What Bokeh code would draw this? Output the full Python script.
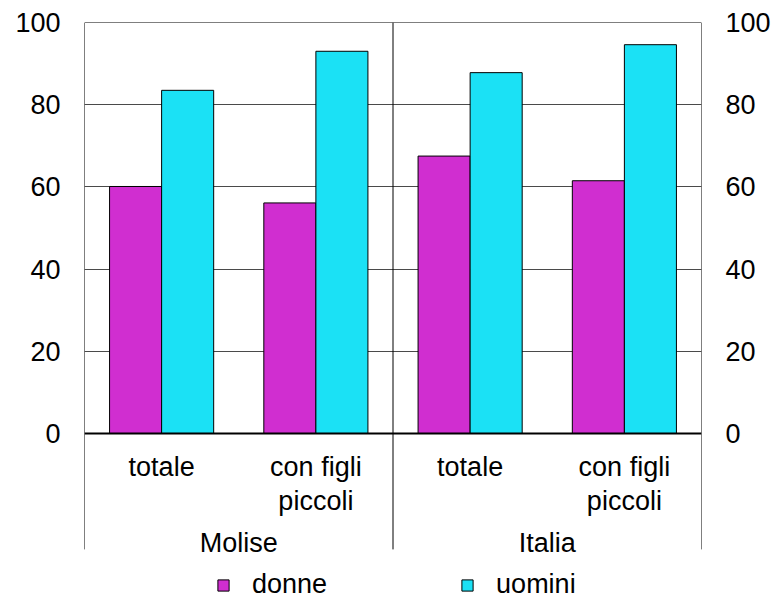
from bokeh.plotting import figure
from bokeh.models import (FactorRange, Range1d, LinearAxis, FixedTicker, Legend,
                          LegendItem, ColumnDataSource)
from bokeh.transform import dodge
from bokeh.core.properties import value
from bokeh.embed import file_html
from bokeh.resources import INLINE

# ---- data ----
regions = ["Molise", "Italia"]
subcats = ["totale", "con figli\npiccoli"]
donne = [60.1, 56.1, 67.5, 61.5]
uomini = [83.5, 93.0, 87.8, 94.6]
y_ticks = [0, 20, 40, 60, 80, 100]
series_names = ["donne", "uomini"]

# ---- style ----
FONT = "Liberation Sans"
FS = "27px"
C_DONNE = "#D02ED0"
C_UOMINI = "#1BE1F5"
GRID = "#4a4a4a"

factors = [(r, s) for r in regions for s in subcats]
x_range = FactorRange(*factors, range_padding=0, group_padding=0,
                      factor_padding=0, subgroup_padding=0)

p = figure(x_range=x_range, y_range=Range1d(-40.146, 100),
           width=775, height=598, output_backend="svg", toolbar_location=None,
           x_axis_location=None, y_axis_location="left",
           min_border_left=84, min_border_right=74,
           min_border_top=22, min_border_bottom=0)
p.outline_line_color = None
p.background_fill_color = "white"
p.border_fill_color = "white"
p.xgrid.visible = False
p.ygrid.ticker = FixedTicker(ticks=[t for t in y_ticks if 0 < t < 100])
p.ygrid.grid_line_color = GRID
p.ygrid.grid_line_width = 1

src = ColumnDataSource(dict(x=factors, donne=donne, uomini=uomini))
bw = 0.3375
r1 = p.vbar(x=dodge("x", -bw / 2, range=p.x_range), top="donne", width=bw,
            source=src, fill_color=C_DONNE, line_color="black", line_width=1)
r2 = p.vbar(x=dodge("x", bw / 2, range=p.x_range), top="uomini", width=bw,
            source=src, fill_color=C_UOMINI, line_color="black", line_width=1)

# frame / separator lines
n = len(factors)
sep_x = [0, n // 2, n]
p.segment(x0=sep_x, y0=[-28.2] * 3, x1=sep_x, y1=[100] * 3,
          line_color="black", line_width=1)
p.segment(x0=[0], y0=[100], x1=[n], y1=[100], line_color="black", line_width=1)
p.segment(x0=[0], y0=[0], x1=[n], y1=[0], line_color="black", line_width=2)

# category labels
lx, ly, lt = [], [], []
for f in factors:
    for i, line in enumerate(f[1].split("\n")):
        lx.append(f)
        ly.append(-8.27 - i * 8.2)
        lt.append(line)
p.text(x=lx, y=ly, text=lt, text_font=value(FONT), text_font_size=FS,
       text_align="center", text_baseline="alphabetic", text_color="black")
p.text(x=regions, y=[-26.7] * len(regions), text=regions, text_font=value(FONT),
       text_font_size=FS, text_align="center", text_baseline="alphabetic",
       text_color="black")

# y axes
def style_axis(ax):
    ax.ticker = FixedTicker(ticks=y_ticks)
    ax.bounds = (0, 100)
    ax.axis_line_color = None
    ax.major_tick_line_color = None
    ax.minor_tick_line_color = None
    ax.major_tick_out = 0
    ax.major_tick_in = 0
    ax.major_label_standoff = 24
    ax.major_label_text_font = FONT
    ax.major_label_text_font_size = FS
    ax.major_label_text_color = "black"

style_axis(p.yaxis[0])
right = LinearAxis()
style_axis(right)
p.add_layout(right, "right")

legend = Legend(items=[LegendItem(label=series_names[0], renderers=[r1]),
                       LegendItem(label=series_names[1], renderers=[r2])],
                orientation="horizontal", location=(132, -2), spacing=133,
                label_standoff=22, glyph_width=14, glyph_height=14,
                padding=0, margin=0, border_line_color=None,
                background_fill_alpha=0, label_text_font=FONT,
                label_text_font_size=FS, label_text_color="black")
p.add_layout(legend)

open("out.html", "w").write(file_html(p, INLINE))
